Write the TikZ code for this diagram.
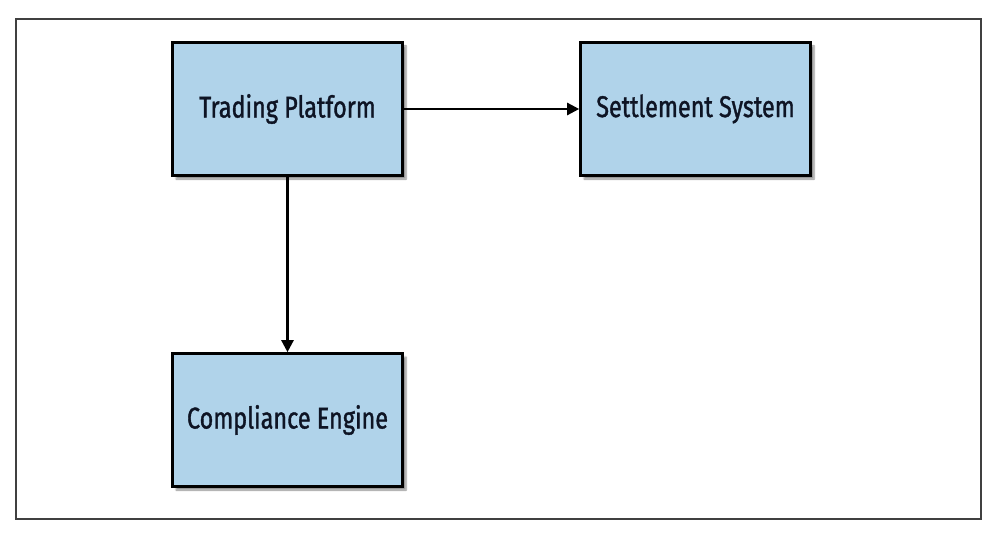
\documentclass[tikz,border=0pt]{standalone}
\usepackage{fontspec}
\newfontfamily\boxfont[FakeStretch=0.78,FakeBold=1.2]{Fira Sans}
\usetikzlibrary{arrows.meta,shadows.blur}
\definecolor{boxblue}{HTML}{B0D3EA}
\definecolor{textdark}{HTML}{0E1424}
\tikzset{
  sysbox/.style={draw=black, line width=2.6pt, fill=boxblue, minimum width=230pt, minimum height=133pt,
    inner sep=0pt, font=\boxfont\fontsize{30}{34}\selectfont, text=textdark,
    blur shadow={shadow xshift=3.5pt, shadow yshift=-3.5pt, shadow blur steps=6, shadow opacity=45}},
  flow/.style={line width=2.4pt, -{Triangle[length=12pt,width=12pt]}},
  frame/.style={draw=black!75, line width=1.2pt}
}
\begin{document}
\begin{tikzpicture}[x=1pt,y=-1pt]
\useasboundingbox (0,0) rectangle (990,534);
\draw[frame] (16,19) rectangle (981,519);
\node[sysbox] (tp) at (287.5,109) {Trading Platform};
\node[sysbox] (ss) at (695.5,109) {Settlement System};
\node[sysbox] (ce) at (287.5,420) {Compliance Engine};
\draw[flow] (tp.east) -- (ss.west);
\draw[flow] (tp.south) -- (ce.north);
\end{tikzpicture}
\end{document}
